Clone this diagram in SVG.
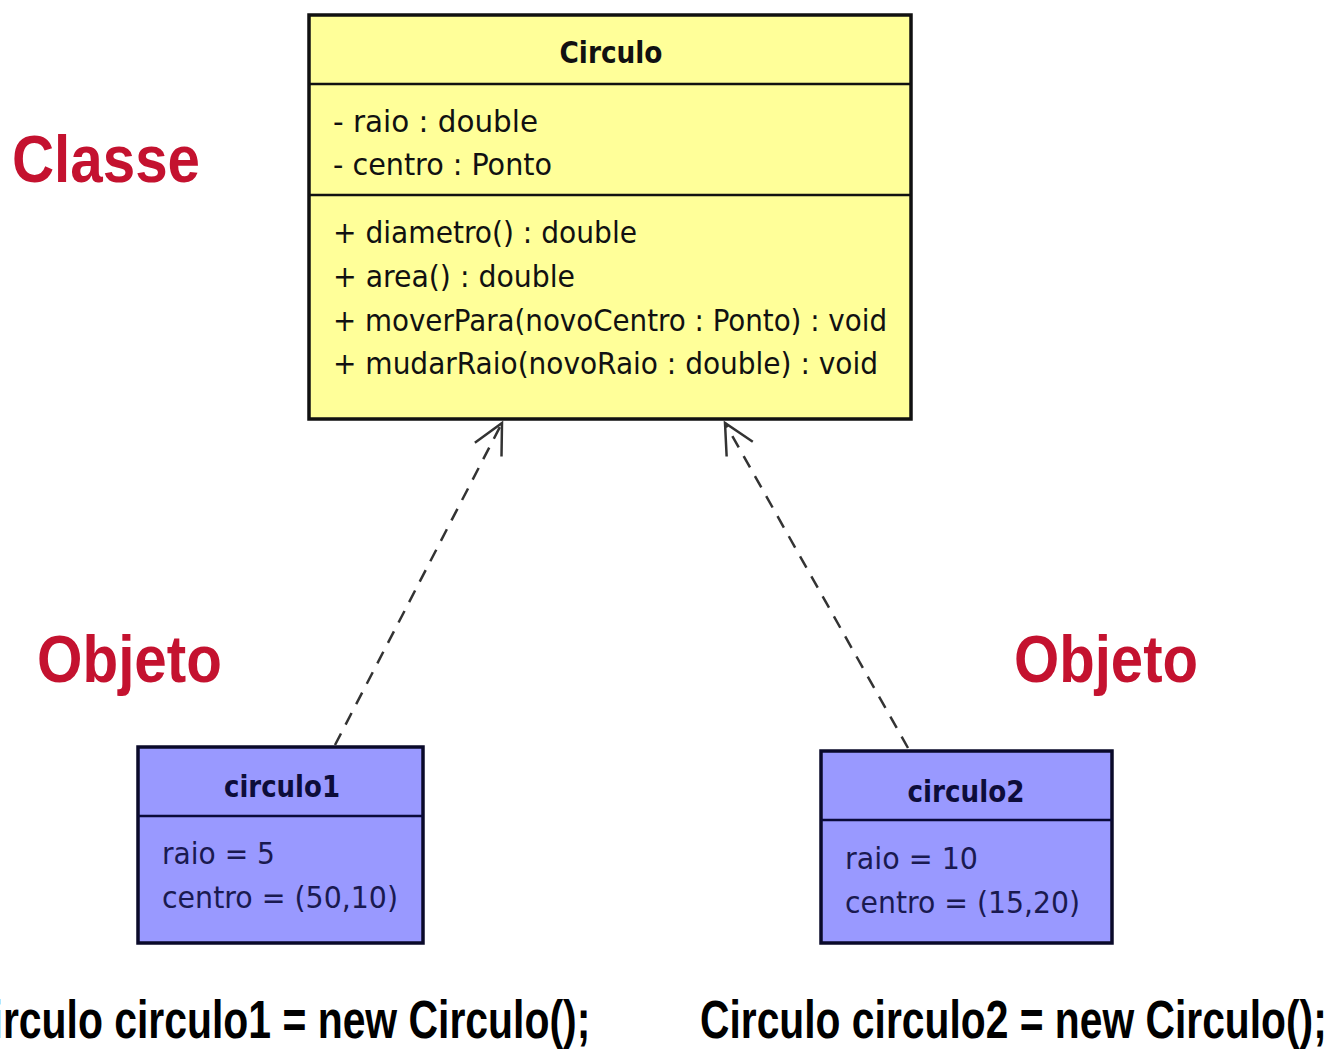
<svg xmlns="http://www.w3.org/2000/svg" width="1333" height="1052" viewBox="0 0 1333 1052">
  <style>
    .cls { fill: #ffff99; stroke: #111; stroke-width: 3.5; }
    .obj { fill: #9999ff; stroke: #0a0a2a; stroke-width: 3.5; }
    .sep { stroke: #111; stroke-width: 2.5; }
    .sepo { stroke: #0a0a3a; stroke-width: 2.5; }
    .uml { font-family: "DejaVu Sans Condensed", "DejaVu Sans", "Liberation Sans", sans-serif; font-size: 31px; fill: #111; }
    .umlb { font-family: "DejaVu Sans Condensed", "DejaVu Sans", "Liberation Sans", sans-serif; font-size: 31px; font-weight: bold; fill: #111; }
    .otxt { font-family: "DejaVu Sans Condensed", "DejaVu Sans", "Liberation Sans", sans-serif; font-size: 31px; fill: #1a1a50; }
    .otxtb { font-family: "DejaVu Sans Condensed", "DejaVu Sans", "Liberation Sans", sans-serif; font-size: 31px; font-weight: bold; fill: #0d0d3a; }
    .lbl { font-family: "Liberation Sans", Arial, sans-serif; font-weight: bold; font-size: 66px; fill: #c4122f; }
    .code { font-family: "Liberation Sans", Arial, sans-serif; font-weight: bold; font-size: 54px; fill: #000; }
    .dep { fill: none; stroke: #333; stroke-width: 2.5; stroke-dasharray: 13 10; }
  </style>
  <defs>
    <marker id="open" markerUnits="userSpaceOnUse" markerWidth="40" markerHeight="40" viewBox="-34 -20 40 40" refX="0" refY="0" orient="auto">
      <path d="M-30,-15 L0,0 L-30,15" fill="none" stroke="#333" stroke-width="2.5"/>
    </marker>
  </defs>
  <rect width="1333" height="1052" fill="#fff"/>

  <!-- labels -->
  <text class="lbl" x="12" y="182" textLength="188" lengthAdjust="spacingAndGlyphs">Classe</text>
  <text class="lbl" x="37" y="682" textLength="185" lengthAdjust="spacingAndGlyphs">Objeto</text>
  <text class="lbl" x="1014" y="682" textLength="184" lengthAdjust="spacingAndGlyphs">Objeto</text>

  <!-- class Circulo -->
  <g id="Circulo">
    <rect class="cls" x="309" y="15" width="602" height="404"/>
    <line class="sep" x1="309" y1="84" x2="911" y2="84"/>
    <line class="sep" x1="309" y1="195" x2="911" y2="195"/>
    <text class="umlb" x="611" y="63" text-anchor="middle" textLength="103" lengthAdjust="spacingAndGlyphs">Circulo</text>
    <text class="uml" x="333" y="132" textLength="205" lengthAdjust="spacingAndGlyphs">- raio : double</text>
    <text class="uml" x="333" y="175" textLength="219" lengthAdjust="spacingAndGlyphs">- centro : Ponto</text>
    <text class="uml" x="333" y="243" textLength="304" lengthAdjust="spacingAndGlyphs">+ diametro() : double</text>
    <text class="uml" x="333" y="287" textLength="242" lengthAdjust="spacingAndGlyphs">+ area() : double</text>
    <text class="uml" x="333" y="331" textLength="554" lengthAdjust="spacingAndGlyphs">+ moverPara(novoCentro : Ponto) : void</text>
    <text class="uml" x="333" y="374" textLength="545" lengthAdjust="spacingAndGlyphs">+ mudarRaio(novoRaio : double) : void</text>
  </g>

  <!-- object circulo1 -->
  <g id="circulo1">
    <rect class="obj" x="138" y="747" width="285" height="196"/>
    <line class="sepo" x1="138" y1="816" x2="423" y2="816"/>
    <text class="otxtb" x="282" y="797" text-anchor="middle" textLength="116" lengthAdjust="spacingAndGlyphs">circulo1</text>
    <text class="otxt" x="162" y="864" textLength="113" lengthAdjust="spacingAndGlyphs">raio = 5</text>
    <text class="otxt" x="162" y="908" textLength="236" lengthAdjust="spacingAndGlyphs">centro = (50,10)</text>
  </g>

  <!-- object circulo2 -->
  <g id="circulo2">
    <rect class="obj" x="821" y="751" width="291" height="192"/>
    <line class="sepo" x1="821" y1="820" x2="1112" y2="820"/>
    <text class="otxtb" x="966" y="802" text-anchor="middle" textLength="117" lengthAdjust="spacingAndGlyphs">circulo2</text>
    <text class="otxt" x="845" y="869" textLength="133" lengthAdjust="spacingAndGlyphs">raio = 10</text>
    <text class="otxt" x="845" y="913" textLength="235" lengthAdjust="spacingAndGlyphs">centro = (15,20)</text>
  </g>

  <!-- instantiation dependencies -->
  <g id="connectors">
    <line class="dep" x1="335" y1="745" x2="502" y2="423" marker-end="url(#open)"/>
    <line class="dep" x1="908" y1="748" x2="725" y2="423" marker-end="url(#open)"/>
  </g>

  <!-- code lines, set in a condensed bold face -->
  <text class="code" transform="translate(-38,1038) scale(0.74,1)" x="0" y="0" textLength="849" lengthAdjust="spacingAndGlyphs">Circulo circulo1 = new Circulo();</text>
  <text class="code" transform="translate(700,1038) scale(0.74,1)" x="0" y="0" textLength="847" lengthAdjust="spacingAndGlyphs">Circulo circulo2 = new Circulo();</text>
</svg>
